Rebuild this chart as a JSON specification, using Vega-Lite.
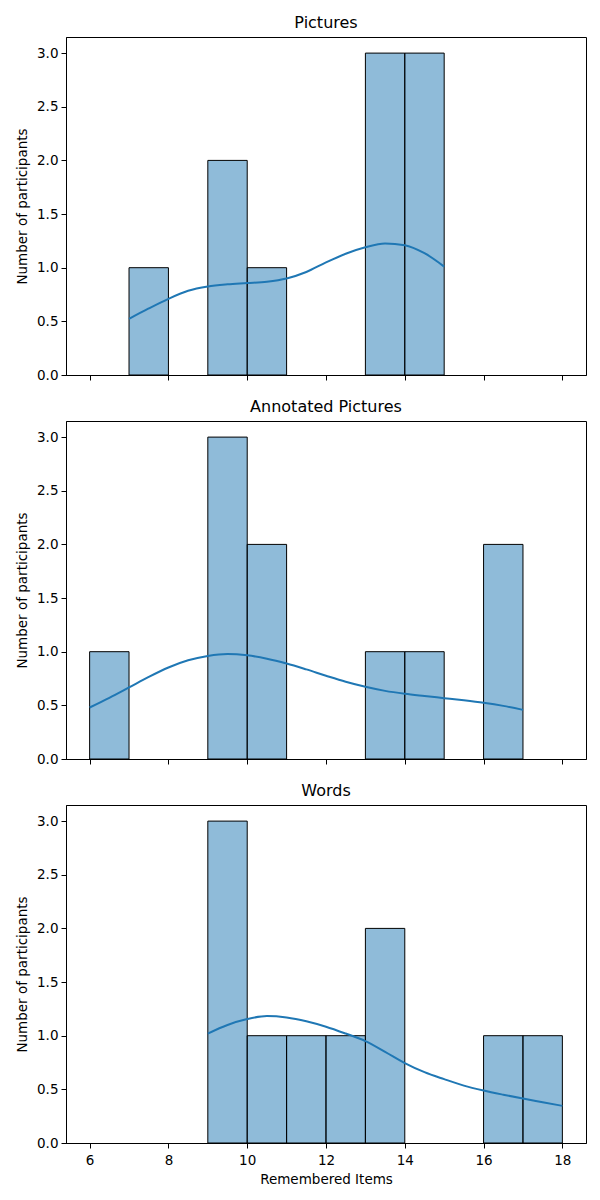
{
  "$schema": "https://vega.github.io/schema/vega-lite/v6.json",
  "padding": {"left": 15, "top": 14, "right": 15, "bottom": 5},
  "background": "white",
  "datasets": {
    "bars": [
      {"panel": "Pictures", "bin_start": 7, "bin_end": 8, "count": 1},
      {"panel": "Pictures", "bin_start": 9, "bin_end": 10, "count": 2},
      {"panel": "Pictures", "bin_start": 10, "bin_end": 11, "count": 1},
      {"panel": "Pictures", "bin_start": 13, "bin_end": 14, "count": 3},
      {"panel": "Pictures", "bin_start": 14, "bin_end": 15, "count": 3},
      {"panel": "Annotated Pictures", "bin_start": 6, "bin_end": 7, "count": 1},
      {"panel": "Annotated Pictures", "bin_start": 9, "bin_end": 10, "count": 3},
      {"panel": "Annotated Pictures", "bin_start": 10, "bin_end": 11, "count": 2},
      {"panel": "Annotated Pictures", "bin_start": 13, "bin_end": 14, "count": 1},
      {"panel": "Annotated Pictures", "bin_start": 14, "bin_end": 15, "count": 1},
      {"panel": "Annotated Pictures", "bin_start": 16, "bin_end": 17, "count": 2},
      {"panel": "Words", "bin_start": 9, "bin_end": 10, "count": 3},
      {"panel": "Words", "bin_start": 10, "bin_end": 11, "count": 1},
      {"panel": "Words", "bin_start": 11, "bin_end": 12, "count": 1},
      {"panel": "Words", "bin_start": 12, "bin_end": 13, "count": 1},
      {"panel": "Words", "bin_start": 13, "bin_end": 14, "count": 2},
      {"panel": "Words", "bin_start": 16, "bin_end": 17, "count": 1},
      {"panel": "Words", "bin_start": 17, "bin_end": 18, "count": 1}
    ],
    "kde": [
      {"panel": "Pictures", "x": 7, "y": 0.523},
      {"panel": "Pictures", "x": 7.5, "y": 0.62},
      {"panel": "Pictures", "x": 8, "y": 0.71},
      {"panel": "Pictures", "x": 8.5, "y": 0.785},
      {"panel": "Pictures", "x": 9, "y": 0.825},
      {"panel": "Pictures", "x": 9.5, "y": 0.845},
      {"panel": "Pictures", "x": 10, "y": 0.857},
      {"panel": "Pictures", "x": 10.5, "y": 0.87},
      {"panel": "Pictures", "x": 11, "y": 0.9},
      {"panel": "Pictures", "x": 11.5, "y": 0.96},
      {"panel": "Pictures", "x": 12, "y": 1.05},
      {"panel": "Pictures", "x": 12.5, "y": 1.13},
      {"panel": "Pictures", "x": 13, "y": 1.19},
      {"panel": "Pictures", "x": 13.5, "y": 1.225},
      {"panel": "Pictures", "x": 14, "y": 1.21},
      {"panel": "Pictures", "x": 14.5, "y": 1.135},
      {"panel": "Pictures", "x": 15, "y": 1.01},
      {"panel": "Annotated Pictures", "x": 6, "y": 0.48},
      {"panel": "Annotated Pictures", "x": 6.5, "y": 0.57},
      {"panel": "Annotated Pictures", "x": 7, "y": 0.667},
      {"panel": "Annotated Pictures", "x": 7.5, "y": 0.765},
      {"panel": "Annotated Pictures", "x": 8, "y": 0.853},
      {"panel": "Annotated Pictures", "x": 8.5, "y": 0.92},
      {"panel": "Annotated Pictures", "x": 9, "y": 0.96},
      {"panel": "Annotated Pictures", "x": 9.5, "y": 0.978},
      {"panel": "Annotated Pictures", "x": 10, "y": 0.966},
      {"panel": "Annotated Pictures", "x": 10.5, "y": 0.935},
      {"panel": "Annotated Pictures", "x": 11, "y": 0.89},
      {"panel": "Annotated Pictures", "x": 11.5, "y": 0.835},
      {"panel": "Annotated Pictures", "x": 12, "y": 0.776},
      {"panel": "Annotated Pictures", "x": 12.5, "y": 0.72},
      {"panel": "Annotated Pictures", "x": 13, "y": 0.673},
      {"panel": "Annotated Pictures", "x": 13.5, "y": 0.635},
      {"panel": "Annotated Pictures", "x": 14, "y": 0.608},
      {"panel": "Annotated Pictures", "x": 14.5, "y": 0.587},
      {"panel": "Annotated Pictures", "x": 15, "y": 0.567},
      {"panel": "Annotated Pictures", "x": 15.5, "y": 0.547},
      {"panel": "Annotated Pictures", "x": 16, "y": 0.524},
      {"panel": "Annotated Pictures", "x": 16.5, "y": 0.495},
      {"panel": "Annotated Pictures", "x": 17, "y": 0.458},
      {"panel": "Words", "x": 9, "y": 1.02},
      {"panel": "Words", "x": 9.5, "y": 1.1},
      {"panel": "Words", "x": 10, "y": 1.155},
      {"panel": "Words", "x": 10.5, "y": 1.183},
      {"panel": "Words", "x": 11, "y": 1.17},
      {"panel": "Words", "x": 11.5, "y": 1.135},
      {"panel": "Words", "x": 12, "y": 1.084},
      {"panel": "Words", "x": 12.5, "y": 1.02},
      {"panel": "Words", "x": 13, "y": 0.95},
      {"panel": "Words", "x": 13.5, "y": 0.85},
      {"panel": "Words", "x": 14, "y": 0.745},
      {"panel": "Words", "x": 14.5, "y": 0.66},
      {"panel": "Words", "x": 15, "y": 0.595},
      {"panel": "Words", "x": 15.5, "y": 0.535},
      {"panel": "Words", "x": 16, "y": 0.489},
      {"panel": "Words", "x": 16.5, "y": 0.45},
      {"panel": "Words", "x": 17, "y": 0.414},
      {"panel": "Words", "x": 17.5, "y": 0.38},
      {"panel": "Words", "x": 18, "y": 0.346}
    ]
  },
  "spacing": 16,
  "vconcat": [
    {
      "title": "Pictures",
      "width": 520, "height": 338,
      "layer": [
        {
          "data": {"name": "bars"},
          "transform": [{"filter": "datum.panel === 'Pictures'"}],
          "mark": {"type": "rect", "fill": "#1f77b4", "fillOpacity": 0.5, "stroke": "black", "strokeWidth": 1},
          "encoding": {
            "x": {"field": "bin_start", "type": "quantitative", "scale": {"domain": [5.4, 18.6], "nice": false, "zero": false}, "axis": {"values": [6, 8, 10, 12, 14, 16, 18], "labels": false, "title": null}},
            "x2": {"field": "bin_end"},
            "y": {"field": "count", "type": "quantitative", "scale": {"domain": [0, 3.15], "nice": false}, "axis": {"values": [0, 0.5, 1, 1.5, 2, 2.5, 3], "format": ".1f", "title": "Number of participants"}}
          }
        },
        {
          "data": {"name": "kde"},
          "transform": [{"filter": "datum.panel === 'Pictures'"}],
          "mark": {"type": "line", "color": "#1f77b4", "strokeWidth": 2, "interpolate": "monotone"},
          "encoding": {
            "x": {"field": "x", "type": "quantitative"},
            "y": {"field": "y", "type": "quantitative"}
          }
        }
      ]
    },
    {
      "title": "Annotated Pictures",
      "width": 520, "height": 338,
      "layer": [
        {
          "data": {"name": "bars"},
          "transform": [{"filter": "datum.panel === 'Annotated Pictures'"}],
          "mark": {"type": "rect", "fill": "#1f77b4", "fillOpacity": 0.5, "stroke": "black", "strokeWidth": 1},
          "encoding": {
            "x": {"field": "bin_start", "type": "quantitative", "scale": {"domain": [5.4, 18.6], "nice": false, "zero": false}, "axis": {"values": [6, 8, 10, 12, 14, 16, 18], "labels": false, "title": null}},
            "x2": {"field": "bin_end"},
            "y": {"field": "count", "type": "quantitative", "scale": {"domain": [0, 3.15], "nice": false}, "axis": {"values": [0, 0.5, 1, 1.5, 2, 2.5, 3], "format": ".1f", "title": "Number of participants"}}
          }
        },
        {
          "data": {"name": "kde"},
          "transform": [{"filter": "datum.panel === 'Annotated Pictures'"}],
          "mark": {"type": "line", "color": "#1f77b4", "strokeWidth": 2, "interpolate": "monotone"},
          "encoding": {
            "x": {"field": "x", "type": "quantitative"},
            "y": {"field": "y", "type": "quantitative"}
          }
        }
      ]
    },
    {
      "title": "Words",
      "width": 520, "height": 338,
      "layer": [
        {
          "data": {"name": "bars"},
          "transform": [{"filter": "datum.panel === 'Words'"}],
          "mark": {"type": "rect", "fill": "#1f77b4", "fillOpacity": 0.5, "stroke": "black", "strokeWidth": 1},
          "encoding": {
            "x": {"field": "bin_start", "type": "quantitative", "scale": {"domain": [5.4, 18.6], "nice": false, "zero": false}, "axis": {"values": [6, 8, 10, 12, 14, 16, 18], "title": "Remembered Items", "labelPadding": 5, "titlePadding": 6}},
            "x2": {"field": "bin_end"},
            "y": {"field": "count", "type": "quantitative", "scale": {"domain": [0, 3.15], "nice": false}, "axis": {"values": [0, 0.5, 1, 1.5, 2, 2.5, 3], "format": ".1f", "title": "Number of participants"}}
          }
        },
        {
          "data": {"name": "kde"},
          "transform": [{"filter": "datum.panel === 'Words'"}],
          "mark": {"type": "line", "color": "#1f77b4", "strokeWidth": 2, "interpolate": "monotone"},
          "encoding": {
            "x": {"field": "x", "type": "quantitative"},
            "y": {"field": "y", "type": "quantitative"}
          }
        }
      ]
    }
  ],
  "config": {
    "font": "DejaVu Sans",
    "view": {"stroke": "black", "strokeWidth": 1},
    "title": {"fontSize": 16, "fontWeight": "normal", "color": "black", "offset": 6, "font": "DejaVu Sans"},
    "axis": {
      "grid": false,
      "domainColor": "black",
      "tickColor": "black",
      "tickSize": 5,
      "labelFontSize": 13.5,
      "labelColor": "black",
      "labelPadding": 3,
      "titleFontSize": 13.5,
      "titleFontWeight": "normal",
      "titleColor": "black",
      "labelFont": "DejaVu Sans",
      "titleFont": "DejaVu Sans"
    },
    "axisY": {"titlePadding": 7, "labelAngle": 0}
  }
}
